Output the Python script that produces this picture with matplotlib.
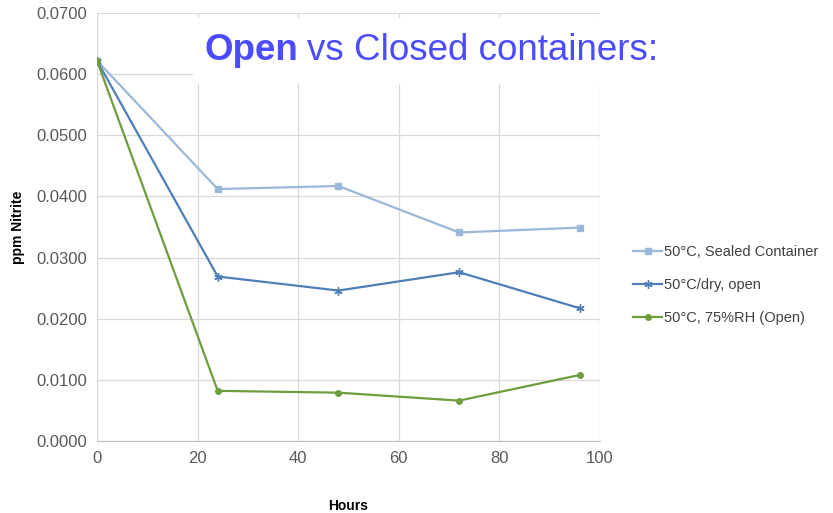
import matplotlib.pyplot as plt
from matplotlib.patches import Rectangle

# Nitrite readings over time for three storage conditions
hours = [0, 24, 48, 72, 96]
sealed = [0.0622, 0.0412, 0.0417, 0.0341, 0.0349]
dry_open = [0.0622, 0.0269, 0.0246, 0.0276, 0.0217]
rh_open = [0.0622, 0.0082, 0.0079, 0.0066, 0.0108]

labels = ['50°C, Sealed Container', '50°C/dry, open', '50°C, 75%RH (Open)']
y_ticks = [0.0, 0.01, 0.02, 0.03, 0.04, 0.05, 0.06, 0.07]
x_ticks = [0, 20, 40, 60, 80, 100]

plt.rcParams['font.family'] = ['Liberation Sans', 'DejaVu Sans']

fig = plt.figure(figsize=(8.33, 5.13), dpi=100)
ax = fig.add_axes([0.1164, 0.1404, 0.6039, 0.8343])

ax.plot(hours, sealed, color='#9bb7d9', marker='s', markersize=4, linewidth=1.6, label=labels[0])
ax.plot(hours, dry_open, color='#4f7fb8', marker=(6, 2, 0), markersize=6, linewidth=1.6,
        markeredgewidth=1, label=labels[1])
ax.plot(hours, rh_open, color='#6e9d3e', marker='o', markersize=4, linewidth=1.6, label=labels[2])

ax.set_xlim(0, 100)
ax.set_ylim(0, 0.07)
ax.set_xticks(x_ticks)
ax.set_yticks(y_ticks)
ax.set_yticklabels(['%.4f' % v for v in y_ticks])
ax.grid(True, color='#d9d9d9', linewidth=0.9)
ax.set_axisbelow(True)
for side in ['top', 'right', 'left']:
    ax.spines[side].set_visible(False)
ax.spines['bottom'].set_color('#bfbfbf')
ax.tick_params(length=0, labelsize=12, colors='#595959', pad=7)

ax.set_xlabel('Hours', fontsize=10, fontweight='bold', labelpad=24)
ax.set_ylabel('ppm Nitrite', fontsize=10, fontweight='bold', labelpad=8)

ax.legend(loc='center left', bbox_to_anchor=(1.054, 0.364), frameon=False,
          fontsize=10.5, handlelength=2.0, handletextpad=0.1, labelspacing=1.3,
          labelcolor='#404040', borderaxespad=0)

# white box with the slide title over the top of the chart
fig.patches.append(Rectangle((193 / 833, 1 - 84 / 513), 490 / 833, 66 / 513,
                             transform=fig.transFigure, facecolor='white',
                             edgecolor='none', zorder=5))
t = fig.text(205 / 833, 1 - 60 / 513, 'Open', fontsize=26.5, fontweight='bold',
             color='#4b4bff', zorder=6)
fig.canvas.draw()
bb = t.get_window_extent()
fig.text(bb.x1 / 833 + 0.01, 1 - 60 / 513, 'vs Closed containers:', fontsize=26.5,
         color='#4b4bff', zorder=6)

fig.savefig('out.png', dpi=100)
